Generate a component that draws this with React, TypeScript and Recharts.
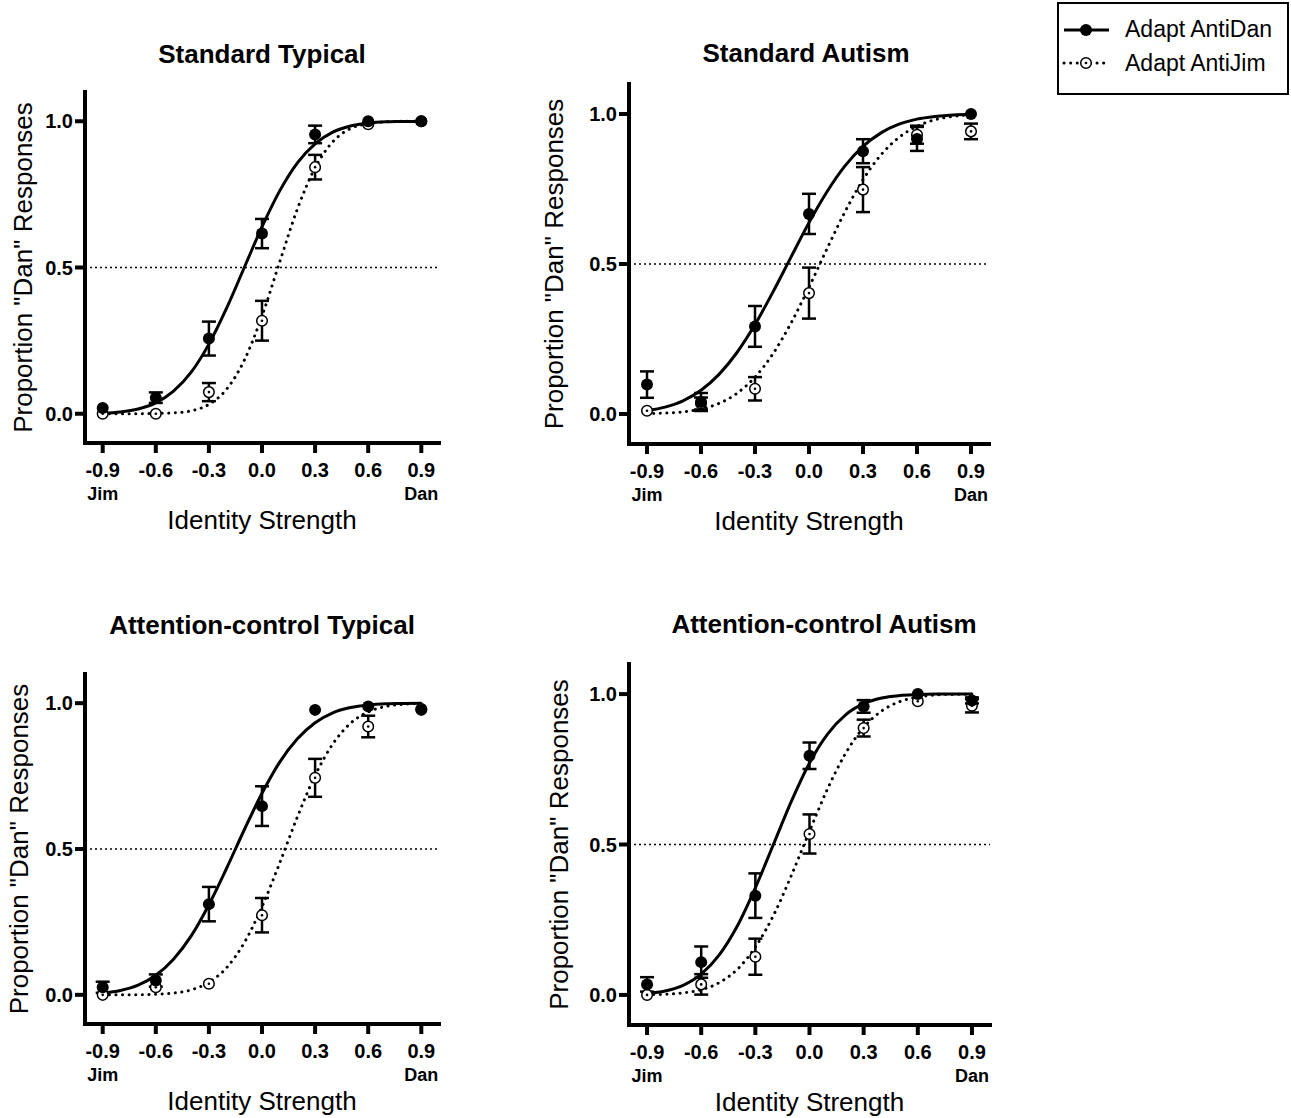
import React from 'react'
import { ComposedChart, Line, Scatter, ErrorBar, XAxis, YAxis, ReferenceLine } from 'recharts'

// stimulus levels (identity strength) and tick labels
const xTicks = [-0.9, -0.6, -0.3, 0, 0.3, 0.6, 0.9]
const xEndLabels = ['Jim', '', '', '', '', '', 'Dan']
const yTicks = [0, 0.5, 1]
const fitX = [-0.9, -0.8, -0.7, -0.6, -0.5, -0.4, -0.3, -0.2, -0.1, 0, 0.1, 0.2, 0.3, 0.4, 0.5, 0.6, 0.7, 0.8, 0.9]

const seriesNames = ['Adapt AntiDan', 'Adapt AntiJim']

// Standard Typical
const stdTypDan = [0.02, 0.055, 0.257, 0.616, 0.955, 1.0, 1.0]
const stdTypDanErr = [0, 0.018, 0.058, 0.05, 0.03, 0, 0]
const stdTypJim = [0.0, 0.0, 0.074, 0.318, 0.843, 0.99, 1.0]
const stdTypJimErr = [0, 0, 0.031, 0.068, 0.042, 0, 0]
const stdTypDanFit = [0.002, 0.006, 0.016, 0.037, 0.077, 0.142, 0.238, 0.361, 0.5, 0.639, 0.762, 0.858, 0.923, 0.963, 0.984, 0.994, 0.998, 0.999, 1.0]
const stdTypJimFit = [0.0, 0.0, 0.0, 0.001, 0.003, 0.01, 0.032, 0.084, 0.183, 0.334, 0.519, 0.7, 0.841, 0.93, 0.975, 0.992, 0.998, 1.0, 1.0]

// Standard Autism
const stdAutDan = [0.098, 0.04, 0.292, 0.667, 0.876, 0.917, 1.0]
const stdAutDanErr = [0.044, 0.03, 0.068, 0.067, 0.04, 0.04, 0]
const stdAutJim = [0.011, 0.035, 0.084, 0.403, 0.748, 0.931, 0.942]
const stdAutJimErr = [0, 0.02, 0.039, 0.085, 0.075, 0.03, 0.026]
const stdAutDanFit = [0.011, 0.023, 0.044, 0.079, 0.132, 0.205, 0.298, 0.407, 0.523, 0.638, 0.741, 0.827, 0.892, 0.937, 0.966, 0.983, 0.992, 0.997, 0.999]
const stdAutJimFit = [0.001, 0.003, 0.007, 0.017, 0.035, 0.069, 0.123, 0.201, 0.303, 0.423, 0.551, 0.674, 0.781, 0.864, 0.922, 0.959, 0.981, 0.992, 0.997]

// Attention-control Typical
const attTypDan = [0.026, 0.049, 0.311, 0.647, 0.977, 0.989, 0.977]
const attTypDanErr = [0.019, 0.021, 0.059, 0.068, 0, 0, 0]
const attTypJim = [0.0, 0.026, 0.038, 0.273, 0.744, 0.92, 0.98]
const attTypJimErr = [0, 0, 0, 0.059, 0.065, 0.037, 0]
const attTypDanFit = [0.006, 0.015, 0.033, 0.067, 0.122, 0.202, 0.309, 0.434, 0.566, 0.691, 0.798, 0.878, 0.933, 0.967, 0.985, 0.994, 0.998, 0.999, 1.0]
const attTypJimFit = [0.0, 0.0, 0.0, 0.002, 0.006, 0.017, 0.043, 0.093, 0.179, 0.302, 0.452, 0.61, 0.752, 0.86, 0.931, 0.97, 0.989, 0.996, 0.999]

// Attention-control Autism
const attAutDan = [0.035, 0.109, 0.33, 0.795, 0.959, 1.0, 0.979]
const attAutDanErr = [0.024, 0.052, 0.074, 0.044, 0.021, 0, 0.01]
const attAutJim = [0.0, 0.035, 0.127, 0.535, 0.887, 0.976, 0.961]
const attAutJimErr = [0, 0.034, 0.06, 0.065, 0.028, 0, 0.022]
const attAutDanFit = [0.005, 0.013, 0.032, 0.069, 0.133, 0.229, 0.356, 0.5, 0.644, 0.771, 0.867, 0.931, 0.968, 0.987, 0.995, 0.998, 1.0, 1.0, 1.0]
const attAutJimFit = [0.001, 0.002, 0.007, 0.017, 0.041, 0.085, 0.159, 0.264, 0.398, 0.544, 0.685, 0.803, 0.889, 0.944, 0.975, 0.99, 0.997, 0.999, 1.0]

const panels = [
  { title: 'Standard Typical', dan: stdTypDan, danErr: stdTypDanErr, jim: stdTypJim, jimErr: stdTypJimErr, danFit: stdTypDanFit, jimFit: stdTypJimFit },
  { title: 'Standard Autism', dan: stdAutDan, danErr: stdAutDanErr, jim: stdAutJim, jimErr: stdAutJimErr, danFit: stdAutDanFit, jimFit: stdAutJimFit },
  { title: 'Attention-control Typical', dan: attTypDan, danErr: attTypDanErr, jim: attTypJim, jimErr: attTypJimErr, danFit: attTypDanFit, jimFit: attTypJimFit },
  { title: 'Attention-control Autism', dan: attAutDan, danErr: attAutDanErr, jim: attAutJim, jimErr: attAutJimErr, danFit: attAutDanFit, jimFit: attAutJimFit },
]

// page placement of each panel (plot box in page pixels)
const layouts = [
  { left: 0, top: 0, width: 460, height: 560, plotL: 85, plotT: 92, plotR: 439, plotB: 443, titleX: 262, titleY: 63, yLabelX: 23 },
  { left: 530, top: 0, width: 480, height: 560, plotL: 629, plotT: 84, plotR: 989, plotB: 444, titleX: 806, titleY: 62, yLabelX: 554 },
  { left: 0, top: 580, width: 460, height: 538, plotL: 85, plotT: 674, plotR: 439, plotB: 1024, titleX: 262, titleY: 634, yLabelX: 19 },
  { left: 530, top: 580, width: 480, height: 538, plotL: 629, plotT: 664, plotR: 990, plotB: 1025, titleX: 824, titleY: 633, yLabelX: 559 },
]

const FONT = '"Liberation Sans", Arial, Helvetica, sans-serif'
const Y_AXIS_W = 75
const X_AXIS_H = 90

const toPoints = (means: number[], errs: number[]) =>
  xTicks.map((x, i) => ({ x, y: means[i], err: errs[i] }))
const toCurve = (vals: number[]) => fitX.map((x, i) => ({ x, y: vals[i] }))

const FilledDot = (p: any) => <circle cx={p.cx} cy={p.cy} r={6} fill="#000" />
const OpenDot = (p: any) => (
  <g>
    <circle cx={p.cx} cy={p.cy} r={5.3} fill="#fff" stroke="#000" strokeWidth={1.5} />
    <circle cx={p.cx} cy={p.cy} r={1.3} fill="#000" />
  </g>
)

const XTick = (props: any) => {
  const { x, y, payload } = props
  const end = xEndLabels[xTicks.indexOf(payload.value)]
  return (
    <g>
      <text x={x} y={y + 22} textAnchor="middle" fontSize={20} fontWeight="bold" fontFamily={FONT} fill="#000">
        {Number(payload.value).toFixed(1)}
      </text>
      {end ? (
        <text x={x} y={y + 45} textAnchor="middle" fontSize={18} fontWeight="bold" fontFamily={FONT} fill="#000">
          {end}
        </text>
      ) : null}
    </g>
  )
}

function Panel({ p, l }: { p: (typeof panels)[number]; l: (typeof layouts)[number] }) {
  const marginLeft = l.plotL - l.left - Y_AXIS_W
  const margin = {
    top: l.plotT - l.top,
    left: marginLeft,
    right: l.left + l.width - l.plotR,
    bottom: l.top + l.height - l.plotB - X_AXIS_H,
  }
  return (
    <>
      <div
        style={{
          position: 'absolute',
          left: l.titleX - 300,
          top: l.titleY - 22,
          width: 600,
          textAlign: 'center',
          fontFamily: FONT,
          fontWeight: 'bold',
          fontSize: 26,
          lineHeight: '26px',
          color: '#000',
        }}
      >
        {p.title}
      </div>
      <div style={{ position: 'absolute', left: l.left, top: l.top }}>
        <ComposedChart width={l.width} height={l.height} margin={margin}>
          <XAxis
            type="number"
            dataKey="x"
            domain={[-1, 1]}
            ticks={xTicks}
            interval={0}
            allowDataOverflow
            height={X_AXIS_H}
            tickSize={10}
            axisLine={{ stroke: '#000', strokeWidth: 4, strokeLinecap: 'square' }}
            tickLine={{ stroke: '#000', strokeWidth: 4 }}
            tick={<XTick />}
            label={{
              value: 'Identity Strength',
              position: 'insideBottom',
              offset: 4,
              style: { fontFamily: FONT, fontSize: 26, fill: '#000' },
            }}
          />
          <YAxis
            type="number"
            domain={[-0.1, 1.1]}
            ticks={yTicks}
            interval={0}
            allowDataOverflow
            width={Y_AXIS_W}
            tickSize={10}
            axisLine={{ stroke: '#000', strokeWidth: 4, strokeLinecap: 'square' }}
            tickLine={{ stroke: '#000', strokeWidth: 4 }}
            tick={{ fontFamily: FONT, fontSize: 20, fontWeight: 'bold', fill: '#000' }}
            tickFormatter={(v: number) => v.toFixed(1)}
            label={{
              value: 'Proportion "Dan" Responses',
              angle: -90,
              position: 'insideLeft',
              offset: l.yLabelX - l.left - marginLeft,
              style: { fontFamily: FONT, fontSize: 26, fill: '#000', textAnchor: 'middle' },
            }}
          />
          <ReferenceLine y={0.5} stroke="#000" strokeWidth={1.5} strokeDasharray="2 3" />
          <Line
            data={toCurve(p.jimFit)}
            type="monotone"
            dataKey="y"
            stroke="#000"
            strokeWidth={3}
            strokeDasharray="0.1 6.5"
            strokeLinecap="round"
            dot={false}
            activeDot={false}
            isAnimationActive={false}
            name={seriesNames[1]}
          />
          <Line
            data={toCurve(p.danFit)}
            type="monotone"
            dataKey="y"
            stroke="#000"
            strokeWidth={3}
            dot={false}
            activeDot={false}
            isAnimationActive={false}
            name={seriesNames[0]}
          />
          <Scatter data={toPoints(p.jim, p.jimErr)} dataKey="y" shape={OpenDot} isAnimationActive={false}>
            <ErrorBar dataKey="err" direction="y" width={7} stroke="#000" strokeWidth={2.5} />
          </Scatter>
          <Scatter data={toPoints(p.dan, p.danErr)} dataKey="y" shape={FilledDot} isAnimationActive={false}>
            <ErrorBar dataKey="err" direction="y" width={7} stroke="#000" strokeWidth={2.5} />
          </Scatter>
        </ComposedChart>
      </div>
    </>
  )
}

function LegendBox() {
  return (
    <div
      style={{
        position: 'absolute',
        left: 1057,
        top: 2,
        width: 228,
        height: 89,
        border: '2px solid #000',
        fontFamily: FONT,
        fontSize: 23,
        color: '#000',
        background: '#fff',
      }}
    >
      <svg width={60} height={89} style={{ position: 'absolute', left: 0, top: 0 }}>
        <line x1={5} y1={26} x2={50} y2={26} stroke="#000" strokeWidth={3} />
        <circle cx={27} cy={26} r={6} fill="#000" />
        <line x1={5} y1={59} x2={50} y2={59} stroke="#000" strokeWidth={3} strokeDasharray="0.1 6.5" strokeLinecap="round" />
        <circle cx={27} cy={59} r={5.3} fill="#fff" stroke="#000" strokeWidth={1.5} />
        <circle cx={27} cy={59} r={1.3} fill="#000" />
      </svg>
      <div style={{ position: 'absolute', left: 66, top: 12, lineHeight: '26px', whiteSpace: 'nowrap' }}>{seriesNames[0]}</div>
      <div style={{ position: 'absolute', left: 66, top: 46, lineHeight: '26px', whiteSpace: 'nowrap' }}>{seriesNames[1]}</div>
    </div>
  )
}

export default function App() {
  return (
    <div style={{ position: 'absolute', left: 0, top: 0, width: 1291, height: 1118, background: '#fff' }}>
      {panels.map((p, i) => (
        <Panel key={p.title} p={p} l={layouts[i]} />
      ))}
      <LegendBox />
    </div>
  )
}
